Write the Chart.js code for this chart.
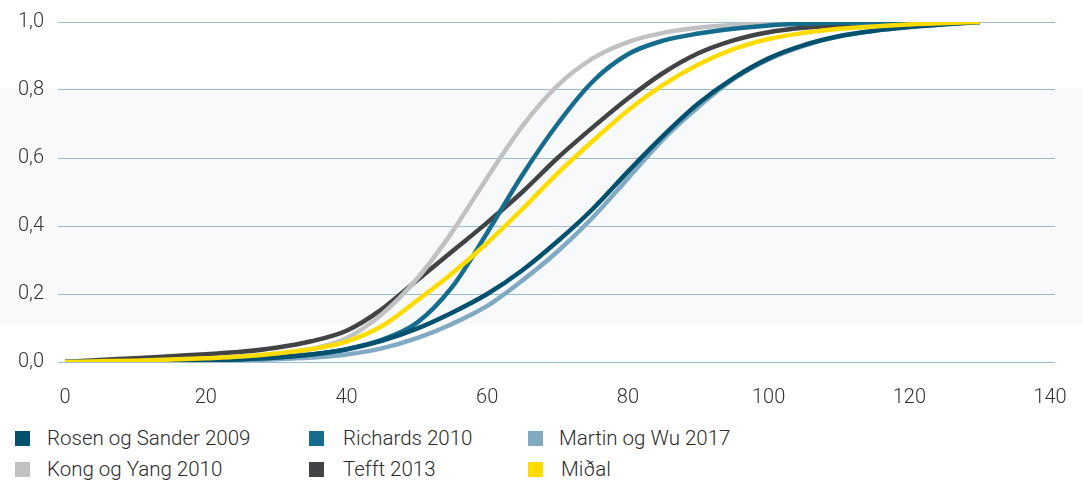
<!DOCTYPE html>
<html>
<head>
<meta charset="utf-8">
<script src="https://cdn.jsdelivr.net/npm/chart.js@4/dist/chart.umd.min.js"></script>
<style>
    html, body {
        margin: 0;
        padding: 0;
    }
    body {
        width: 1083px;
        height: 481px;
        position: relative;
        overflow: hidden;
        font-family: Roboto, "Liberation Sans", sans-serif;
        background: linear-gradient(to bottom, #ffffff 0, #ffffff 88px, #f7f9fb 88px, #f7f9fb 325px, #ffffff 325px);
    }
    #chart {
        position: absolute;
        left: 0;
        top: 0;
    }
    .legend-item {
        position: absolute;
        height: 16px;
        font-size: 20.5px;
        font-weight: 300;
        color: #2b2b2b;
        white-space: nowrap;
    }
    .legend-box {
        position: absolute;
        left: 0;
        top: 0;
        width: 15px;
        height: 15px;
    }
    .legend-text {
        position: absolute;
        top: -5px;
    }
</style>
</head>
<body>
<canvas id="chart" width="1083" height="410"></canvas>
<div id="legend"></div>
<script>
// x positions (same for every series)
const xValues = [0, 5, 10, 15, 20, 25, 30, 35, 40, 45, 50, 55, 60, 65, 70, 75, 80, 85, 90, 95, 100, 105, 110, 115, 120, 125, 130];

// series values
const rosenSander = [0, 0.001, 0.002, 0.003, 0.005, 0.008, 0.013, 0.022, 0.037, 0.062, 0.098, 0.145, 0.2, 0.27, 0.355, 0.45, 0.56, 0.665, 0.76, 0.835, 0.893, 0.932, 0.958, 0.974, 0.985, 0.993, 1.0];
const richards = [0, 0.001, 0.002, 0.003, 0.005, 0.008, 0.013, 0.022, 0.038, 0.065, 0.115, 0.22, 0.38, 0.55, 0.7, 0.825, 0.905, 0.945, 0.966, 0.98, 0.99, 0.995, 0.998, 0.999, 1.0, 1.0, 1.0];
const martinWu = [0, 0.0005, 0.001, 0.002, 0.003, 0.005, 0.008, 0.013, 0.022, 0.04, 0.07, 0.112, 0.165, 0.24, 0.325, 0.425, 0.54, 0.655, 0.75, 0.832, 0.89, 0.93, 0.958, 0.974, 0.985, 0.993, 1.0];
const kongYang = [0, 0.001, 0.002, 0.003, 0.006, 0.011, 0.02, 0.038, 0.07, 0.14, 0.244, 0.382, 0.542, 0.694, 0.813, 0.893, 0.941, 0.968, 0.983, 0.991, 0.995, 0.997, 0.998, 0.999, 1.0, 1.0, 1.0];
const tefft = [0, 0.006, 0.011, 0.017, 0.023, 0.03, 0.042, 0.061, 0.092, 0.155, 0.24, 0.325, 0.41, 0.5, 0.6, 0.69, 0.775, 0.85, 0.908, 0.946, 0.97, 0.983, 0.99, 0.994, 0.997, 0.999, 1.0];
const midal = [0, 0.002, 0.004, 0.007, 0.011, 0.016, 0.025, 0.038, 0.06, 0.105, 0.18, 0.26, 0.35, 0.45, 0.555, 0.65, 0.74, 0.815, 0.875, 0.92, 0.95, 0.968, 0.98, 0.987, 0.993, 0.997, 1.0];

const seriesNames = ['Rosen og Sander 2009', 'Richards 2010', 'Martin og Wu 2017', 'Kong og Yang 2010', 'Tefft 2013', 'Miðal'];
const seriesValues = [rosenSander, richards, martinWu, kongYang, tefft, midal];
const seriesColors = ['#00506e', '#156c8c', '#80a9c2', '#bfc1c3', '#424345', '#ffdc00'];
const drawOrder = [1, 2, 3, 4, 5, 0];

// axis ticks
const xTicks = [0, 20, 40, 60, 80, 100, 120, 140];
const yTicks = [0, 0.2, 0.4, 0.6, 0.8, 1.0];
const yTickLabels = ['0,0', '0,2', '0,4', '0,6', '0,8', '1,0'];

const gridColor = '#9dbccd';
const tickColor = '#333333';
const fontFamily = 'Roboto, "Liberation Sans", sans-serif';

document.addEventListener('DOMContentLoaded', function() {
    buildChart();
    buildLegend();
});

function buildChart() {
    const datasets = seriesNames.map((name, i) => ({
        label: name,
        data: xValues.map((x, j) => ({ x: x, y: seriesValues[i][j] })),
        borderColor: seriesColors[i],
        backgroundColor: seriesColors[i],
        borderWidth: 4.5,
        pointRadius: 0,
        cubicInterpolationMode: 'monotone',
        fill: false,
        order: drawOrder[i]
    }));

    new Chart(document.getElementById('chart'), {
        type: 'line',
        data: { datasets: datasets },
        options: {
            responsive: false,
            animation: false,
            layout: { padding: { top: 22, left: 0, right: 28, bottom: 0 } },
            plugins: {
                legend: { display: false },
                tooltip: { enabled: false }
            },
            scales: {
                x: {
                    type: 'linear',
                    min: -1,
                    max: 140.7,
                    afterBuildTicks: axis => { axis.ticks = xTicks.map(v => ({ value: v })); },
                    afterFit: axis => { axis.height = 48; },
                    grid: { display: false, drawTicks: false },
                    border: { display: false },
                    ticks: {
                        color: tickColor,
                        font: { family: fontFamily, size: 20, weight: '300', lineHeight: 3.1 },
                        padding: 5,
                        maxRotation: 0,
                        callback: v => String(v)
                    }
                },
                y: {
                    min: 0,
                    max: 1,
                    afterBuildTicks: axis => { axis.ticks = yTicks.map(v => ({ value: v })); },
                    afterFit: axis => { axis.width = 58; },
                    grid: { color: gridColor, lineWidth: 1, drawTicks: false },
                    border: { display: false },
                    ticks: {
                        color: tickColor,
                        font: { family: fontFamily, size: 20, weight: '300', lineHeight: 0.8 },
                        padding: 14,
                        callback: (v, idx) => yTickLabels[idx]
                    }
                }
            }
        }
    });
}

function buildLegend() {
    const legend = document.getElementById('legend');
    const colLeft = [15, 309, 528];
    const textLeft = [32, 34, 31];
    const rowTop = [431, 462];

    seriesNames.forEach((name, i) => {
        const col = i % 3;
        const row = Math.floor(i / 3);
        const item = document.createElement('div');
        item.className = 'legend-item';
        item.style.left = colLeft[col] + 'px';
        item.style.top = rowTop[row] + 'px';
        item.innerHTML = `
            <div class="legend-box" style="background:${seriesColors[i]}"></div>
            <div class="legend-text" style="left:${textLeft[col] + (i === 5 ? 2 : 0)}px">${name}</div>
        `;
        legend.appendChild(item);
    });
}
</script>
</body>
</html>
